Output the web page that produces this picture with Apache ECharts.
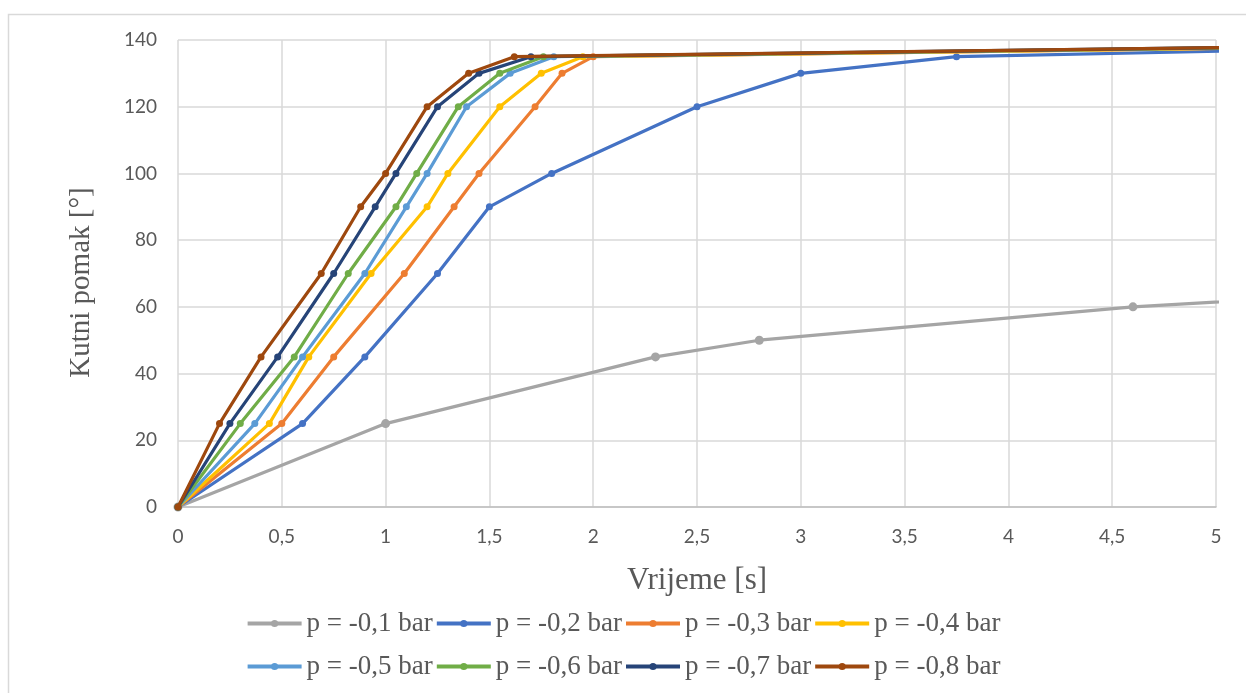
<!DOCTYPE html>
<html>
<head>
<meta charset="utf-8">
<script src="https://cdn.jsdelivr.net/npm/echarts@6/dist/echarts.min.js"></script>
<style>
html,body{margin:0;padding:0;background:#fff;}
#c{width:1246px;height:693px;}
</style>
</head>
<body>
<div id="c"></div>
<script>
// Series names
const seriesNames = ['p = -0,1 bar','p = -0,2 bar','p = -0,3 bar','p = -0,4 bar','p = -0,5 bar','p = -0,6 bar','p = -0,7 bar','p = -0,8 bar'];
// Time values [s] and angular displacement [°] per series (last point lies beyond the axis and is clipped)
const t01 = [0, 1.0, 2.3, 2.8, 4.6, 6.0];
const a01 = [0, 25, 45, 50, 60, 65];
const t02 = [0, 0.6, 0.9, 1.25, 1.5, 1.8, 2.5, 3.0, 3.75, 6.0];
const a02 = [0, 25, 45, 70, 90, 100, 120, 130, 135, 137.9];
const t03 = [0, 0.5, 0.75, 1.09, 1.33, 1.45, 1.72, 1.85, 2.0, 6.0];
const a03 = [0, 25, 45, 70, 90, 100, 120, 130, 135, 138.3];
const t04 = [0, 0.44, 0.63, 0.93, 1.2, 1.3, 1.55, 1.75, 1.95, 6.0];
const a04 = [0, 25, 45, 70, 90, 100, 120, 130, 135, 138.3];
const t05 = [0, 0.37, 0.6, 0.9, 1.1, 1.2, 1.39, 1.6, 1.81, 6.0];
const a05 = [0, 25, 45, 70, 90, 100, 120, 130, 135, 138.4];
const t06 = [0, 0.3, 0.56, 0.82, 1.05, 1.15, 1.35, 1.55, 1.76, 6.0];
const a06 = [0, 25, 45, 70, 90, 100, 120, 130, 135, 138.4];
const t07 = [0, 0.25, 0.48, 0.75, 0.95, 1.05, 1.25, 1.45, 1.7, 6.0];
const a07 = [0, 25, 45, 70, 90, 100, 120, 130, 135, 138.5];
const t08 = [0, 0.2, 0.4, 0.69, 0.88, 1.0, 1.2, 1.4, 1.62, 6.0];
const a08 = [0, 25, 45, 70, 90, 100, 120, 130, 135, 138.5];
const colors = ['#A5A5A5','#4472C4','#ED7D31','#FFC000','#5B9BD5','#70AD47','#264478','#9E480E'];
// Axis ticks
const xTicks = [0, 0.5, 1, 1.5, 2, 2.5, 3, 3.5, 4, 4.5, 5];
const yTicks = [0, 20, 40, 60, 80, 100, 120, 140];

const T = [t01,t02,t03,t04,t05,t06,t07,t08];
const A = [a01,a02,a03,a04,a05,a06,a07,a08];

function pairs(t, a){ return t.map((x,i)=>[x,a[i]]); }

const series = seriesNames.map((n,i)=>({
  name: n,
  type: 'line',
  data: pairs(T[i], A[i]),
  color: colors[i],
  lineStyle: {width: 3.2, color: colors[i]},
  itemStyle: {color: colors[i]},
  symbol: 'circle',
  symbolSize: i === 0 ? 9 : 7,
  showSymbol: true,
  clip: true,
  animation: false,
  z: 2 + i
}));

const legendText = {fontFamily: '"Liberation Serif", "Times New Roman", serif', fontSize: 27, color: '#595959'};
const legendCommon = {left: 'center', itemWidth: 54, itemHeight: 9, itemGap: 2,
  textStyle: legendText, lineStyle: {width: 4}};
const chart = echarts.init(document.getElementById('c'), null, {renderer: 'canvas'});
chart.setOption({
  backgroundColor: '#fff',
  animation: false,
  graphic: [{
    type: 'rect', shape: {x: 8.5, y: 14.5, width: 1260, height: 700},
    style: {fill: 'none', stroke: '#d9d9d9', lineWidth: 1.5}, z: -10
  }],
  grid: {left: 178, right: 30, top: 40, bottom: 186, containLabel: false},
  legend: [
    Object.assign({data: seriesNames.slice(0,4), top: 605}, legendCommon),
    Object.assign({data: seriesNames.slice(4), top: 648}, legendCommon)
  ],
  xAxis: {
    type: 'value', min: xTicks[0], max: xTicks[xTicks.length-1], interval: 0.5,
    name: 'Vrijeme [s]', nameLocation: 'middle', nameGap: 58,
    nameTextStyle: {fontFamily: '"Liberation Serif", serif', fontSize: 31, color: '#595959'},
    axisLine: {show: true, lineStyle: {color: '#bfbfbf', width: 1.5}},
    axisTick: {show: false},
    axisLabel: {fontFamily: 'Lato, "Open Sans", sans-serif', fontSize: 19, color: '#595959', margin: 20,
      formatter: v => String(v).replace('.', ',')},
    splitLine: {show: true, lineStyle: {color: '#d9d9d9', width: 1.5}}
  },
  yAxis: {
    type: 'value', min: yTicks[0], max: yTicks[yTicks.length-1], interval: 20,
    name: 'Kutni pomak [°]', nameLocation: 'middle', nameGap: 82,
    nameTextStyle: {fontFamily: '"Liberation Serif", serif', fontSize: 29, color: '#595959', padding: [0, 18, 0, 0]},
    axisLine: {show: false},
    axisTick: {show: false},
    axisLabel: {fontFamily: 'Lato, "Open Sans", sans-serif', fontSize: 19, color: '#595959', margin: 21},
    splitLine: {show: true, lineStyle: {color: '#d9d9d9', width: 1.5}}
  },
  series: series
});
</script>
</body>
</html>
